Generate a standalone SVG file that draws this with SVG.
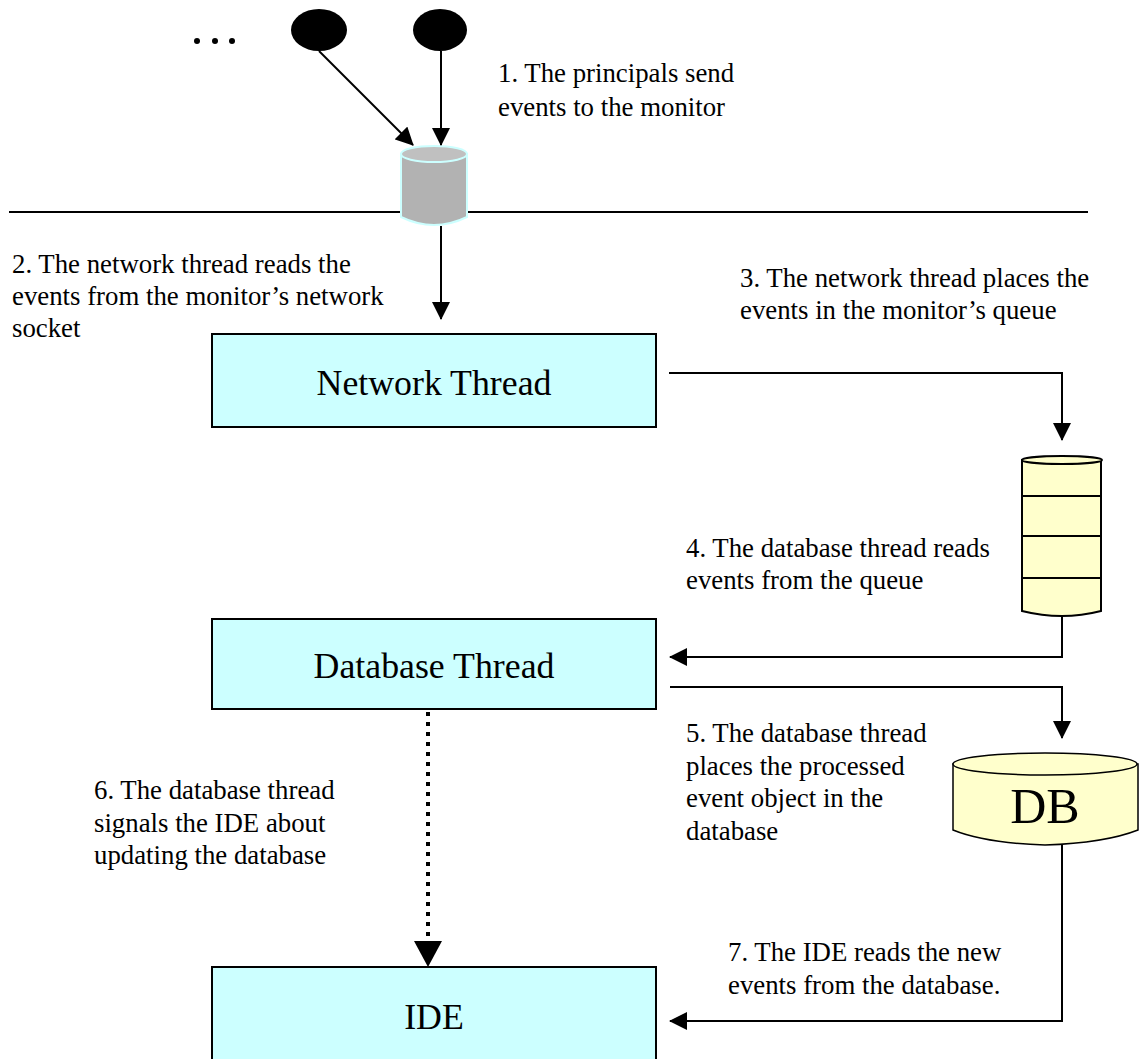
<svg xmlns="http://www.w3.org/2000/svg" width="1140" height="1059" viewBox="0 0 1140 1059">
<style>
.lbl{font-family:"Liberation Serif","Times New Roman",serif;font-size:26.8px;fill:#000}
.box{fill:#ccffff;stroke:#000;stroke-width:2}
.boxt{font-family:"Liberation Serif","Times New Roman",serif;font-size:35.8px;fill:#000;text-anchor:middle}
.ln{fill:none;stroke:#000;stroke-width:2}
</style>
<defs>
<marker id="ah" markerUnits="userSpaceOnUse" markerWidth="18" markerHeight="18" viewBox="0 0 18 18" refX="17" refY="9" orient="auto">
<path d="M0,0 L18,9 L0,18 Z" fill="#000"/>
</marker>
</defs>
<line x1="9" y1="212" x2="1088" y2="212" stroke="#000" stroke-width="2"/>
<g id="dots">
<circle cx="197" cy="41" r="3" fill="#000"/>
<circle cx="215" cy="41" r="3" fill="#000"/>
<circle cx="232" cy="41" r="3" fill="#000"/>
</g>
<g id="principal1"><ellipse cx="319" cy="30" rx="28" ry="21" fill="#000"/></g>
<g id="principal2"><ellipse cx="440" cy="30" rx="27" ry="21" fill="#000"/></g>
<g id="socket">
<path d="M401,154 L401,217 Q434,233 467,217 L467,154 Z" fill="#b2b2b2" stroke="#ccffff" stroke-width="2"/>
<ellipse cx="434" cy="154" rx="33" ry="8" fill="#c0c0c0" stroke="#ccffff" stroke-width="2"/>
</g>
<g id="network-thread">
<rect class="box" x="212" y="334" width="444" height="93"/>
<text class="boxt" x="434" y="395">Network Thread</text>
</g>
<g id="queue">
<path d="M1022,460 L1022,611 Q1062,621 1101,611 L1101,460 Z" fill="#ffffcc" stroke="#000" stroke-width="2"/>
<ellipse cx="1062" cy="460" rx="40" ry="4" fill="#ffffcc" stroke="#000" stroke-width="2"/>
<line x1="1022" y1="496" x2="1101" y2="496" stroke="#000" stroke-width="2"/>
<line x1="1022" y1="536" x2="1101" y2="536" stroke="#000" stroke-width="2"/>
<line x1="1022" y1="578" x2="1101" y2="578" stroke="#000" stroke-width="2"/>
</g>
<g id="database-thread">
<rect class="box" x="212" y="619" width="444" height="90"/>
<text class="boxt" x="434" y="678">Database Thread</text>
</g>
<g id="db">
<path d="M953,764 L953,830 Q985,843 1045,845 Q1105,843 1138,830 L1138,764 Z" fill="#ffffcc" stroke="#000" stroke-width="1.5"/>
<ellipse cx="1045" cy="764" rx="92" ry="11" fill="#ffffcc" stroke="#000" stroke-width="1.5"/>
<text x="1045" y="823" font-family="Liberation Serif, Times New Roman, serif" font-size="50" text-anchor="middle">DB</text>
</g>
<g id="ide">
<rect class="box" x="212" y="967" width="444" height="100"/>
<text class="boxt" x="434" y="1029">IDE</text>
</g>
<g id="connectors">
<line class="ln" x1="319" y1="51" x2="413" y2="145" marker-end="url(#ah)"/>
<line class="ln" x1="441" y1="51" x2="441" y2="145" marker-end="url(#ah)"/>
<line class="ln" x1="441" y1="226" x2="441" y2="319" marker-end="url(#ah)"/>
<polyline class="ln" points="669,373 1062,373 1062,440" marker-end="url(#ah)"/>
<polyline class="ln" points="1062,615 1062,657 670,657" marker-end="url(#ah)"/>
<polyline class="ln" points="670,687 1062,687 1062,738" marker-end="url(#ah)"/>
<polyline class="ln" points="1062,845 1062,1021 670,1021" marker-end="url(#ah)"/>
<line x1="428" y1="712" x2="428" y2="940" stroke="#000" stroke-width="4" stroke-dasharray="4,6"/>
<path d="M414,941 L442,941 L428,967 Z" fill="#000"/>
</g>
<g id="labels">
<text class="lbl"><tspan x="498" y="82">1. The principals send</tspan><tspan x="498" y="116">events to the monitor</tspan></text>
<text class="lbl"><tspan x="12" y="273">2. The network thread reads the</tspan><tspan x="12" y="305">events from the monitor’s network</tspan><tspan x="12" y="337">socket</tspan></text>
<text class="lbl"><tspan x="740" y="287">3. The network thread places the</tspan><tspan x="740" y="319">events in the monitor’s queue</tspan></text>
<text class="lbl"><tspan x="686" y="557">4. The database thread reads</tspan><tspan x="686" y="589">events from the queue</tspan></text>
<text class="lbl"><tspan x="686" y="742">5. The database thread</tspan><tspan x="686" y="775">places the processed</tspan><tspan x="686" y="807">event object in the</tspan><tspan x="686" y="840">database</tspan></text>
<text class="lbl"><tspan x="94" y="799">6. The database thread</tspan><tspan x="94" y="832">signals the IDE about</tspan><tspan x="94" y="864">updating the database</tspan></text>
<text class="lbl"><tspan x="728" y="961">7. The IDE reads the new</tspan><tspan x="728" y="994">events from the database.</tspan></text>
</g>
</svg>
